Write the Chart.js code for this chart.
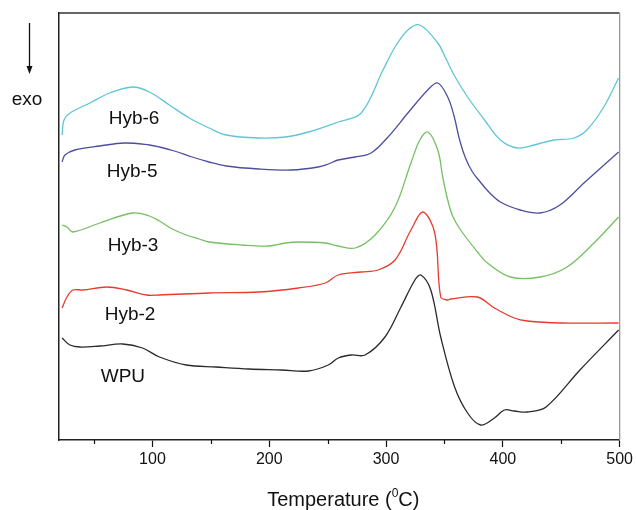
<!DOCTYPE html>
<html>
<head>
<meta charset="utf-8">
<script src="https://cdn.jsdelivr.net/npm/chart.js@4.4.1/dist/chart.umd.min.js"></script>
<style>
  html, body { margin: 0; padding: 0; background: #fff; }
  #wrap { width: 636px; height: 510px; }
</style>
</head>
<body>
<div id="wrap"><canvas id="dsc" width="636" height="510"></canvas></div>
<script>
// temperatures (°C) and heat-flow readings (arbitrary units, up = endo)
const hyb6T = [22.6, 24.3, 29.4, 46.4, 63.4, 83, 97.4, 114.5, 131.5, 148.5, 163, 191, 214, 233.6, 259, 278.7, 297.4, 307.7, 318.7, 328.9, 344.3, 351, 358.7, 369.8, 384.3, 397.9, 412.3, 426.8, 443.8, 460.9, 471.9, 486.4, 499.1];
const hyb6  = [305, 320, 327, 337, 347, 353, 348, 335, 322, 312, 305, 302, 303, 308, 318, 327, 370, 393, 410, 415, 397, 382, 364, 343, 320, 300, 292, 295, 300, 302, 310, 333, 362];

const hyb5T = [22.6, 25.1, 33.6, 54.9, 76.2, 97.4, 106, 118.7, 134, 148.5, 163, 191, 219, 242, 250.6, 259, 273.6, 287.2, 301.7, 318.7, 335.7, 344.3, 352.8, 358, 363, 368, 374, 380, 388, 397.9, 414.9, 431.9, 448.9, 469.4, 499.1];
const hyb5  = [278, 285, 290, 294, 297, 295, 293, 289, 283, 278, 274, 271, 270, 273, 276, 280, 283, 287, 303, 327, 350, 357, 343, 325, 300, 282, 268, 259, 248, 238, 230, 227, 235, 257, 288];

const hyb3T = [22.6, 26.8, 31.9, 54.9, 83, 97.4, 106, 117, 128.9, 140, 148.5, 176.6, 199.6, 214, 225, 248, 259, 273.6, 290.6, 307.7, 321.3, 328.9, 335.7, 344.3, 348.5, 352.8, 357, 363.8, 378.3, 386.8, 406.4, 432, 455, 478, 499.1];
const hyb3  = [215, 213, 208, 217, 227, 224, 219, 211, 205, 201, 198, 195, 194, 197, 198, 197, 194, 192, 205, 233, 277, 300, 308, 290, 263, 240, 224, 210, 188, 177, 163, 163, 173, 197, 223];

const hyb2T = [22.6, 26.8, 31.9, 40.4, 60.9, 77.9, 94.9, 106, 148.5, 191, 225, 248, 259, 278.7, 293.2, 307.7, 321.3, 331.5, 341.7, 346.8, 352.8, 355.3, 378.3, 392.8, 409.8, 420.9, 450, 499.1];
const hyb2  = [132, 143, 150, 150, 153, 150, 145, 145, 147, 148, 152, 157, 165, 168, 170, 180, 210, 228, 207, 143, 140, 141, 143, 132, 122, 119, 117, 117];

const wpuT = [22.6, 29.4, 37.9, 54.9, 74.5, 91.5, 106, 128.9, 154.5, 182.6, 210.6, 233.6, 250.6, 259.1, 270.2, 282.1, 299.1, 312.8, 324.7, 329.8, 338.3, 346.8, 358.7, 369.8, 380.9, 392.8, 401.3, 409.8, 420.9, 437, 466, 499.1];
const wpu  = [102, 95, 93, 94, 96, 92, 83, 75, 73, 71, 70, 69, 75, 82, 85, 85, 103, 133, 160, 165, 150, 103, 53, 27, 15, 22, 30, 29, 28, 33, 70, 110];

const seriesNames  = ['Hyb-6', 'Hyb-5', 'Hyb-3', 'Hyb-2', 'WPU'];
const seriesColors = ['#5ec6d6', '#4c4f9e', '#74c062', '#e83a30', '#2a2a2a'];
const xTicks = [100, 200, 300, 400, 500];
const xMinorTicks = [50, 150, 250, 350, 450];

const allT = [hyb6T, hyb5T, hyb3T, hyb2T, wpuT];
const allV = [hyb6, hyb5, hyb3, hyb2, wpu];

// where the curve names sit (temperature, value at text baseline)
const labelPos = [[62.6, 316], [60.9, 263], [61.7, 189], [59.1, 120], [55.7, 58]];

const FONT = '"Liberation Sans", Arial, sans-serif';

let datasets = seriesNames.map((name, i) => ({
  label: name,
  data: allT[i].map((t, j) => ({ x: t, y: allV[i][j] })),
  borderColor: seriesColors[i],
  borderWidth: 1.3,
  pointRadius: 0,
  fill: false,
  tension: 0.35
}));

const decor = {
  id: 'decor',
  afterDatasetsDraw(chart) {
    const ctx = chart.ctx;
    const xs = chart.scales.x, ys = chart.scales.y;
    const a = chart.chartArea;
    ctx.save();
    // top and right frame
    ctx.lineWidth = 1.3;
    ctx.strokeStyle = '#333';
    ctx.beginPath();
    ctx.moveTo(a.left, a.top); ctx.lineTo(a.right, a.top);
    ctx.stroke();
    ctx.strokeStyle = '#999';
    ctx.beginPath();
    ctx.moveTo(a.right, a.top); ctx.lineTo(a.right, a.bottom);
    ctx.stroke();
    // minor ticks
    ctx.strokeStyle = '#111';
    ctx.lineWidth = 1.2;
    xMinorTicks.forEach(v => {
      const px = Math.round(xs.getPixelForValue(v)) + 0.5;
      ctx.beginPath();
      ctx.moveTo(px, a.bottom); ctx.lineTo(px, a.bottom + 4);
      ctx.stroke();
    });
    // curve names
    ctx.fillStyle = '#111';
    ctx.font = '19px ' + FONT;
    ctx.textBaseline = 'alphabetic';
    ctx.textAlign = 'left';
    seriesNames.forEach((n, i) => {
      ctx.fillText(n, xs.getPixelForValue(labelPos[i][0]), ys.getPixelForValue(labelPos[i][1]));
    });
    // axis title with superscript
    const p1 = 'Temperature (', p2 = '0', p3 = 'C)';
    ctx.font = '20px ' + FONT;
    const w1 = ctx.measureText(p1).width, w3 = ctx.measureText(p3).width;
    ctx.font = '12px ' + FONT;
    const w2 = ctx.measureText(p2).width;
    let x0 = (a.left + a.right) / 2 + 4 - (w1 + w2 + w3) / 2;
    const base = 506;
    ctx.font = '20px ' + FONT;
    ctx.fillText(p1, x0, base);
    ctx.font = '12px ' + FONT;
    ctx.fillText(p2, x0 + w1, base - 9);
    ctx.font = '20px ' + FONT;
    ctx.fillText(p3, x0 + w1 + w2, base);
    // exo marker
    ctx.font = '19px ' + FONT;
    ctx.textAlign = 'center';
    ctx.fillText('exo', 27, 105);
    ctx.strokeStyle = '#111';
    ctx.lineWidth = 1.3;
    ctx.beginPath();
    ctx.moveTo(29.5, 23); ctx.lineTo(29.5, 70);
    ctx.stroke();
    ctx.fillStyle = '#111';
    ctx.beginPath();
    ctx.moveTo(26.5, 66); ctx.lineTo(32.5, 66); ctx.lineTo(29.5, 74);
    ctx.closePath();
    ctx.fill();
    ctx.restore();
  }
};

new Chart(document.getElementById('dsc'), {
  type: 'line',
  data: { datasets: datasets },
  options: {
    responsive: false,
    animation: false,
    layout: { padding: { top: 13, right: 14, left: 0, bottom: 0 } },
    plugins: { legend: { display: false }, tooltip: { enabled: false } },
    scales: {
      x: {
        type: 'linear',
        min: 20,
        max: 500,
        afterBuildTicks: s => { s.ticks = xTicks.map(v => ({ value: v })); },
        afterFit: s => { s.height = 70; },
        grid: { drawOnChartArea: false, tickLength: 7, tickColor: '#111', tickWidth: 1.2 },
        border: { color: '#222', width: 1.5 },
        ticks: { color: '#111', font: { family: FONT, size: 16 }, padding: 3, maxRotation: 0 }
      },
      y: {
        min: 0,
        max: 427,
        afterFit: s => { s.width = 59; },
        grid: { drawOnChartArea: false, drawTicks: false },
        border: { color: '#222', width: 1.5 },
        ticks: { display: false }
      }
    }
  },
  plugins: [decor]
});
</script>
</body>
</html>
